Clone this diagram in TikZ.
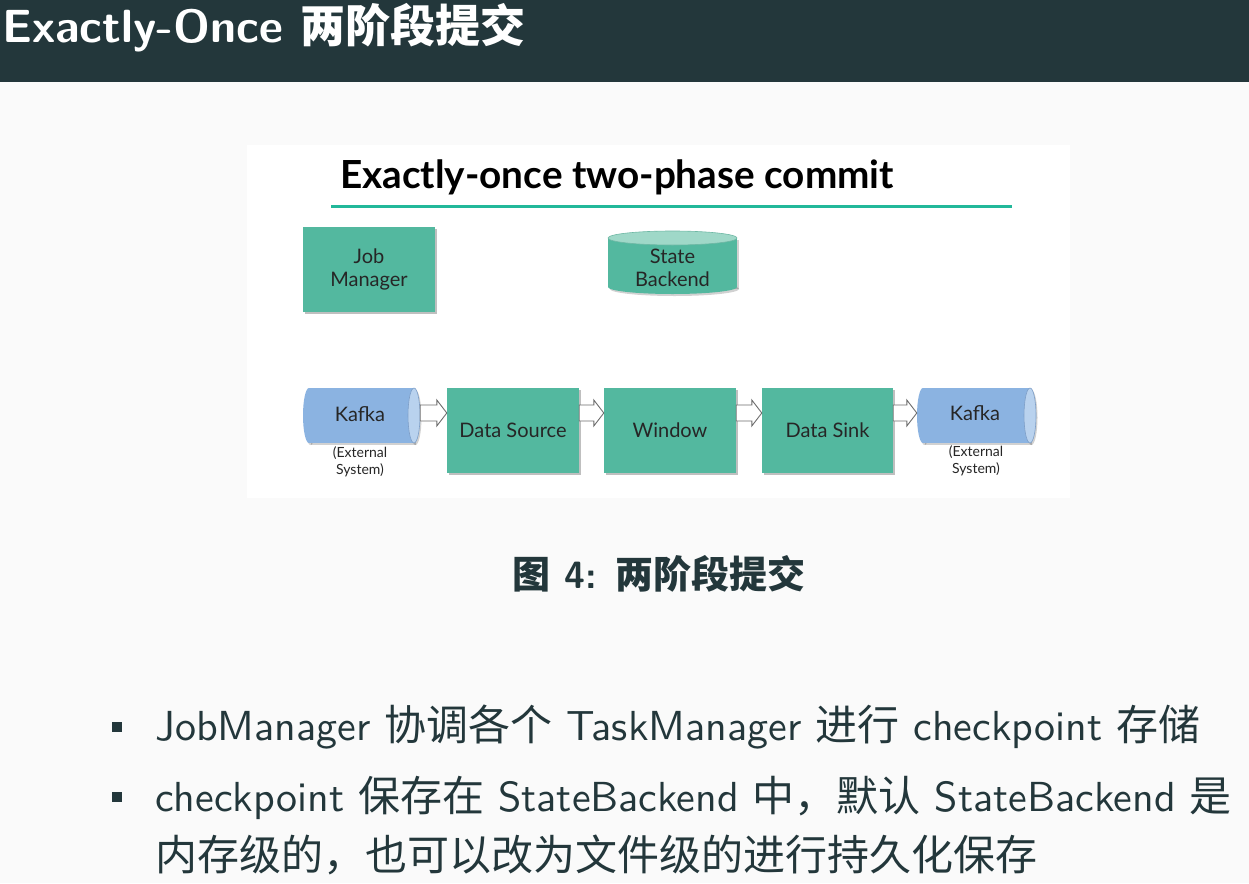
\documentclass[tikz,border=0pt]{standalone}
\usepackage{fontspec}
\usetikzlibrary{calc,shadows}
\newfontfamily\cjk{Noto Sans CJK SC}
\newfontfamily\bodyfont{lmsans10-regular.otf}[BoldFont=lmsans10-bold.otf]
\newfontfamily\lato{Lato}
\definecolor{mDark}{HTML}{23373B}
\definecolor{mBg}{HTML}{FAFAFA}
\definecolor{boxteal}{HTML}{53B89F}
\definecolor{sbtop}{HTML}{9FD8C8}
\definecolor{sbedge}{HTML}{6FB8A5}
\definecolor{kblue}{HTML}{8BB3E1}
\definecolor{kcap}{HTML}{B9D2EE}
\definecolor{kedge}{HTML}{7E9FC8}
\definecolor{rulecol}{HTML}{22B89A}
\definecolor{intext}{HTML}{262626}
\definecolor{arrowgray}{HTML}{6E6E6E}
\newcommand{\kafkacyl}[4]{% xl xr yt yb
  \fill[black,opacity=0.18] ({#1+7.5},{#3+2}) rectangle ({#2-4.5},{#4+2});
  \fill[black,opacity=0.18] ({#1+7.5},{(#3+#4)/2+2}) ellipse (6 and {(#4-#3)/2});
  \fill[black,opacity=0.18] ({#2-4.5},{(#3+#4)/2+2}) ellipse (6 and {(#4-#3)/2});
  \fill[kblue] ({#1+6},#3) rectangle ({#2-6},#4);
  \fill[kblue] ({#1+6},{(#3+#4)/2}) ellipse (6 and {(#4-#3)/2});
  \fill[kcap,draw=kedge,line width=0.6] ({#2-6},{(#3+#4)/2}) ellipse (6 and {(#4-#3)/2});
}
\newcommand{\barrow}[2]{%
  \path (#1.east |- lvl) coordinate (s) (#2.west |- lvl) coordinate (e);
  \draw[blockarrow] ($(s)+(0,-8)$) -- ($(e)+(-10,-8)$) -- ($(e)+(-10,-13)$) -- (e)
     -- ($(e)+(-10,13)$) -- ($(e)+(-10,8)$) -- ($(s)+(0,8)$) -- cycle;
}
\tikzset{
  box/.style={fill=boxteal, minimum width=132, minimum height=85, inner sep=0,
    text=intext, font=\lato\fontsize{20}{23}\selectfont, align=center,
    drop shadow={shadow xshift=1.5pt, shadow yshift=-2pt, opacity=0.25, fill=black}},
  cyltext/.style={inner sep=0, text=intext, font=\lato\fontsize{20}{23}\selectfont, align=center},
  ext/.style={inner sep=0, text=intext, font=\lato\fontsize{14}{17}\selectfont, align=center},
  blockarrow/.style={draw=arrowgray, fill=white, line width=0.9, line join=miter},
  bulletsq/.style={fill=mDark, minimum size=10, inner sep=0},
  bodytext/.style={anchor=base west, inner sep=0, text=mDark, font=\bodyfont\fontsize{42}{50}\selectfont},
}
\begin{document}
\begin{tikzpicture}[x=1pt,y=-1pt]
\useasboundingbox (0,0) rectangle (1249,883);
\fill[mBg] (0,0) rectangle (1249,883);
\fill[mDark] (0,0) rectangle (1249,82);
\node[anchor=base west, inner sep=0, text=white, font=\bodyfont\bfseries\fontsize{46.5}{50}\selectfont] (title) at (2,43) {Exactly-Once {\cjk\bfseries\fontsize{45}{50}\selectfont 两阶段提交}};

% inner figure
\fill[white] (247,145) rectangle (1070,498);
\node[anchor=base, inner sep=0, text=black, font=\lato\bfseries\fontsize{38.7}{42}\selectfont] (ititle) at (617,188) {Exactly-once two-phase commit};
\coordinate (rl) at (331,206);
\coordinate (rr) at (1012,206);
\draw[rulecol, line width=3] (rl) -- (rr);

\node[box] (jm) at (369,269) {Job\\Manager};

% state backend cylinder
\fill[black,opacity=0.18] (610,240) rectangle (739,289);
\fill[black,opacity=0.18] (674.5,289) ellipse (64.5 and 7);
\fill[boxteal] (608,238) rectangle (737,287);
\fill[boxteal] (672.5,287) ellipse (64.5 and 7);
\fill[sbtop, draw=sbedge, line width=0.6] (672.5,238) ellipse (64.5 and 7);
\node[cyltext] (sb) at (672.5,268) {State\\Backend};

% pipeline
\coordinate (lvl) at (0,413);
\kafkacyl{303}{420}{388}{443}
\kafkacyl{917}{1036}{388}{443}
\node[cyltext, minimum width=117, minimum height=55] (kl) at (361.5,415.5) {};
\node[cyltext] (klt) at (360,414) {Kafka};
\node[ext] (kle) at (360,461.5) {(External\\System)};
\node[box] (ds) at (513,430.5) {Data Source};
\node[box] (win) at (670,430.5) {Window};
\node[box, minimum width=131] (sink) at (827.5,430.5) {Data Sink};
\node[cyltext, minimum width=119, minimum height=55] (kr) at (976.5,415.5) {};
\node[cyltext] (krt) at (975,413) {Kafka};
\node[ext] (kre) at (976,460.5) {(External\\System)};

\barrow{kl}{ds}
\barrow{ds}{win}
\barrow{win}{sink}
\barrow{sink}{kr}

% caption
\node[anchor=base, inner sep=0, text=mDark, font=\bodyfont\bfseries\fontsize{38}{42}\selectfont] (cap) at (659,588) {{\cjk\bfseries 图}~4: {\cjk\bfseries 两阶段提交}};

% bullets
\node[bulletsq] (b1) at (117,727) {};
\node[bulletsq] (b2) at (117,797) {};
\node[bodytext] (l1) at (155,740) {JobManager {\cjk 协调各个} TaskManager {\cjk 进行} checkpoint {\cjk 存储}};
\node[bodytext] (l2) at (155,811) {checkpoint {\cjk 保存在} StateBackend {\cjk 中，默认} StateBackend {\cjk 是}};
\node[bodytext] (l3) at (155,870) {{\cjk 内存级的，也可以改为文件级的进行持久化保存}};
\end{tikzpicture}
\end{document}
